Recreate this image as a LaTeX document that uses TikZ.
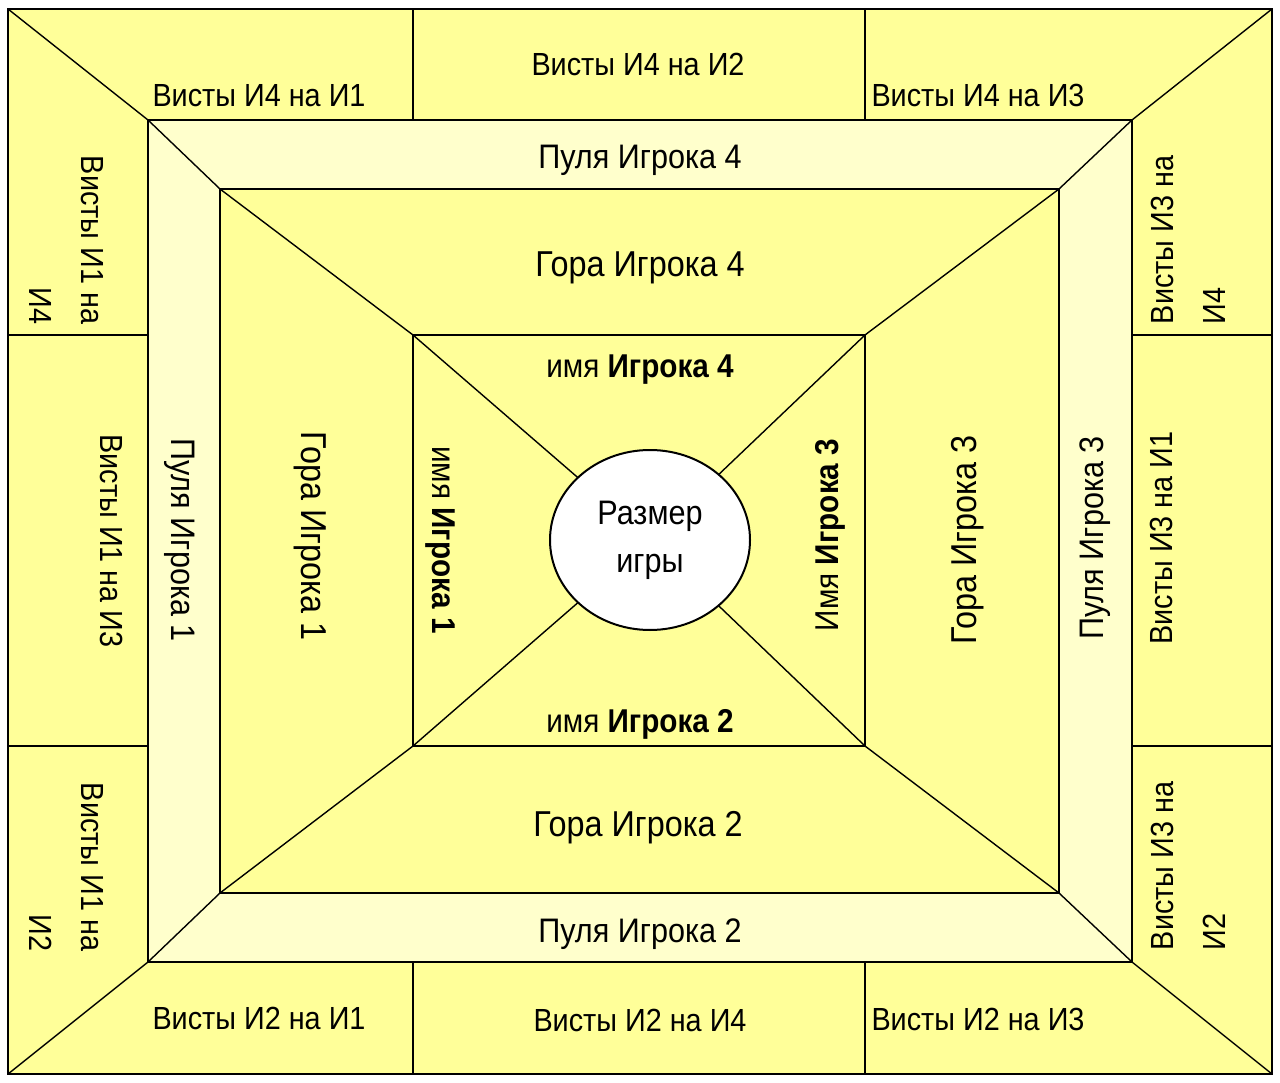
\documentclass[tikz,border=0pt]{standalone}
\usepackage{fontspec}
\setmainfont{Liberation Sans}[FakeStretch=0.9]
\usetikzlibrary{shapes.geometric}
\definecolor{yel}{HTML}{FFFF99}
\definecolor{pale}{HTML}{FFFFCC}
\tikzset{
  frameline/.style={line width=2.4pt, line cap=rect},
  diag/.style={line width=1.4pt},
  vistone/.style={font=\fontsize{32}{52}\selectfont, inner sep=0pt, text height=22.9pt, text depth=0pt},
  visttwo/.style={font=\fontsize{32}{52}\selectfont, inner sep=0pt},
  pul/.style={font=\fontsize{34}{40}\selectfont, inner sep=0pt, text height=24.3pt, text depth=0pt},
  gor/.style={font=\fontsize{36}{40}\selectfont, inner sep=0pt, text height=25.8pt, text depth=0pt},
  nam/.style={font=\fontsize{33}{40}\selectfont, inner sep=0pt, text height=23.6pt, text depth=0pt},
}
\begin{document}
\begin{tikzpicture}[x=1pt,y=-1pt]
\useasboundingbox (0,0) rectangle (1280,1083);
\fill[white] (0,0) rectangle (1280,1083);
% corner coordinates
\coordinate (o1) at (8,9);     \coordinate (o2) at (1272,9);
\coordinate (o3) at (1272,1074); \coordinate (o4) at (8,1074);
\coordinate (p1) at (148,120); \coordinate (p2) at (1132,120);
\coordinate (p3) at (1132,962); \coordinate (p4) at (148,962);
\coordinate (g1) at (220,189); \coordinate (g2) at (1059,189);
\coordinate (g3) at (1059,893); \coordinate (g4) at (220,893);
\coordinate (i1) at (413,335); \coordinate (i2) at (865,335);
\coordinate (i3) at (865,746); \coordinate (i4) at (413,746);
\coordinate (c) at (650,540);
% divider end points
\coordinate (t1) at (413,9);   \coordinate (t2) at (865,9);
\coordinate (t1b) at (413,120); \coordinate (t2b) at (865,120);
\coordinate (b1) at (413,962); \coordinate (b2) at (865,962);
\coordinate (b1b) at (413,1074); \coordinate (b2b) at (865,1074);
\coordinate (l1) at (8,335);   \coordinate (l2) at (8,746);
\coordinate (l1b) at (148,335); \coordinate (l2b) at (148,746);
\coordinate (r1) at (1132,335); \coordinate (r2) at (1132,746);
\coordinate (r1b) at (1272,335); \coordinate (r2b) at (1272,746);
% fills
\fill[yel] (o1) rectangle (o3);
\fill[pale] (p1) rectangle (p3);
\fill[yel] (g1) rectangle (g3);
% diagonals
\draw[diag] (o1) -- (p1) -- (g1) -- (i1) -- (c);
\draw[diag] (o2) -- (p2) -- (g2) -- (i2) -- (c);
\draw[diag] (o3) -- (p3) -- (g3) -- (i3) -- (c);
\draw[diag] (o4) -- (p4) -- (g4) -- (i4) -- (c);
% rectangles and dividers
\draw[frameline] (o1) rectangle (o3);
\draw[frameline] (p1) rectangle (p3);
\draw[frameline] (g1) rectangle (g3);
\draw[frameline] (i1) rectangle (i3);
\draw[frameline] (t1) -- (t1b) (t2) -- (t2b);
\draw[frameline] (b1) -- (b1b) (b2) -- (b2b);
\draw[frameline] (l1) -- (l1b) (l2) -- (l2b);
\draw[frameline] (r1) -- (r1b) (r2) -- (r2b);
% centre ellipse
\node[ellipse, draw, line width=2pt, fill=white, minimum width=200pt, minimum height=180pt, inner sep=0pt,
      align=center, font=\fontsize{34}{48}\selectfont] (size) at (c) {Размер\\игры};
% top band
\node[vistone] (v42) at (638,64) {Висты И4 на И2};
\node[vistone] (v41) at (259,95) {Висты И4 на И1};
\node[vistone] (v43) at (978,95) {Висты И4 на И3};
\node[pul] (pu4) at (640,156) {Пуля Игрока 4};
\node[gor] (go4) at (640,264) {Гора Игрока 4};
\node[nam] (na4) at (640,366) {имя \textbf{Игрока 4}};
% bottom band
\node[nam] (na2) at (640,721) {имя \textbf{Игрока 2}};
\node[gor] (go2) at (638,824) {Гора Игрока 2};
\node[pul] (pu2) at (640,930) {Пуля Игрока 2};
\node[vistone] (v21) at (259,1018) {Висты И2 на И1};
\node[vistone] (v24) at (640,1020) {Висты И2 на И4};
\node[vistone] (v23) at (978,1019) {Висты И2 на И3};
% left column
\node[visttwo, rotate=-90, align=right] (v14) at (67,240) {Висты И1 на\\И4};
\node[vistone, rotate=-90] (v13) at (112,541) {Висты И1 на И3};
\node[visttwo, rotate=-90, align=right] (v12) at (67,867) {Висты И1 на\\И2};
\node[pul, rotate=-90] (pu1) at (184,540) {Пуля Игрока 1};
\node[gor, rotate=-90] (go1) at (314,536) {Гора Игрока 1};
\node[nam, rotate=-90] (na1) at (444,540) {имя \textbf{Игрока 1}};
% right column
\node[visttwo, rotate=90, align=left] (v34) at (1188,240) {Висты И3 на\\И4};
\node[vistone, rotate=90] (v31) at (1161,538) {Висты И3 на И1};
\node[visttwo, rotate=90, align=left] (v32) at (1188,866) {Висты И3 на\\И2};
\node[pul, rotate=90] (pu3) at (1091,538) {Пуля Игрока 3};
\node[gor, rotate=90] (go3) at (964,540) {Гора Игрока 3};
\node[nam, rotate=90] (na3) at (827,535) {Имя \textbf{Игрока 3}};
\end{tikzpicture}
\end{document}
